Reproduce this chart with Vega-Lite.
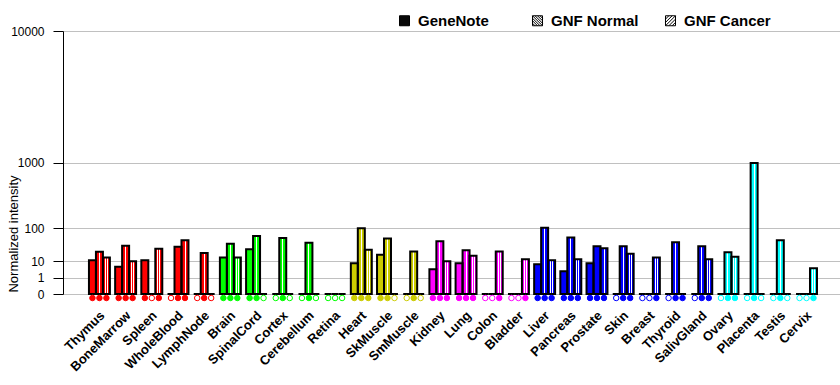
{
  "$schema": "https://vega.github.io/schema/vega-lite/v6.json",
  "width": 777,
  "height": 263,
  "autosize": "none",
  "padding": {"left": 63, "top": 31, "right": 0, "bottom": 91},
  "background": "white",
  "config": {"view": {"stroke": null}, "font": "Liberation Sans"},
  "data": {"values": [
    {"tissue": "Thymus", "group": "Blood", "series": "GeneNote", "value": 11, "present": 1},
    {"tissue": "Thymus", "group": "Blood", "series": "GNF Normal", "value": 23, "present": 1},
    {"tissue": "Thymus", "group": "Blood", "series": "GNF Cancer", "value": 14, "present": 1},
    {"tissue": "BoneMarrow", "group": "Blood", "series": "GeneNote", "value": 5.4, "present": 1},
    {"tissue": "BoneMarrow", "group": "Blood", "series": "GNF Normal", "value": 36, "present": 1},
    {"tissue": "BoneMarrow", "group": "Blood", "series": "GNF Cancer", "value": 10, "present": 1},
    {"tissue": "Spleen", "group": "Blood", "series": "GeneNote", "value": 11, "present": 1},
    {"tissue": "Spleen", "group": "Blood", "series": "GNF Normal", "value": 0, "present": 0},
    {"tissue": "Spleen", "group": "Blood", "series": "GNF Cancer", "value": 29, "present": 1},
    {"tissue": "WholeBlood", "group": "Blood", "series": "GeneNote", "value": 0, "present": 0},
    {"tissue": "WholeBlood", "group": "Blood", "series": "GNF Normal", "value": 33.5, "present": 1},
    {"tissue": "WholeBlood", "group": "Blood", "series": "GNF Cancer", "value": 51, "present": 1},
    {"tissue": "LymphNode", "group": "Blood", "series": "GeneNote", "value": 0, "present": 0},
    {"tissue": "LymphNode", "group": "Blood", "series": "GNF Normal", "value": 21, "present": 1},
    {"tissue": "LymphNode", "group": "Blood", "series": "GNF Cancer", "value": 0, "present": 0},
    {"tissue": "Brain", "group": "Neural", "series": "GeneNote", "value": 14, "present": 1},
    {"tissue": "Brain", "group": "Neural", "series": "GNF Normal", "value": 41, "present": 1},
    {"tissue": "Brain", "group": "Neural", "series": "GNF Cancer", "value": 14, "present": 1},
    {"tissue": "SpinalCord", "group": "Neural", "series": "GeneNote", "value": 28, "present": 1},
    {"tissue": "SpinalCord", "group": "Neural", "series": "GNF Normal", "value": 66, "present": 1},
    {"tissue": "SpinalCord", "group": "Neural", "series": "GNF Cancer", "value": 0, "present": 0},
    {"tissue": "Cortex", "group": "Neural", "series": "GeneNote", "value": 0, "present": 0},
    {"tissue": "Cortex", "group": "Neural", "series": "GNF Normal", "value": 59, "present": 1},
    {"tissue": "Cortex", "group": "Neural", "series": "GNF Cancer", "value": 0, "present": 0},
    {"tissue": "Cerebellum", "group": "Neural", "series": "GeneNote", "value": 0, "present": 0},
    {"tissue": "Cerebellum", "group": "Neural", "series": "GNF Normal", "value": 44, "present": 1},
    {"tissue": "Cerebellum", "group": "Neural", "series": "GNF Cancer", "value": 0, "present": 0},
    {"tissue": "Retina", "group": "Neural", "series": "GeneNote", "value": 0, "present": 0},
    {"tissue": "Retina", "group": "Neural", "series": "GNF Normal", "value": 0, "present": 0},
    {"tissue": "Retina", "group": "Neural", "series": "GNF Cancer", "value": 0, "present": 0},
    {"tissue": "Heart", "group": "Muscle", "series": "GeneNote", "value": 8, "present": 1},
    {"tissue": "Heart", "group": "Muscle", "series": "GNF Normal", "value": 100, "present": 1},
    {"tissue": "Heart", "group": "Muscle", "series": "GNF Cancer", "value": 27, "present": 1},
    {"tissue": "SkMuscle", "group": "Muscle", "series": "GeneNote", "value": 18, "present": 1},
    {"tissue": "SkMuscle", "group": "Muscle", "series": "GNF Normal", "value": 57, "present": 1},
    {"tissue": "SkMuscle", "group": "Muscle", "series": "GNF Cancer", "value": 0, "present": 0},
    {"tissue": "SmMuscle", "group": "Muscle", "series": "GeneNote", "value": 0, "present": 0},
    {"tissue": "SmMuscle", "group": "Muscle", "series": "GNF Normal", "value": 23.5, "present": 1},
    {"tissue": "SmMuscle", "group": "Muscle", "series": "GNF Cancer", "value": 0, "present": 0},
    {"tissue": "Kidney", "group": "Visceral", "series": "GeneNote", "value": 3.9, "present": 1},
    {"tissue": "Kidney", "group": "Visceral", "series": "GNF Normal", "value": 48, "present": 1},
    {"tissue": "Kidney", "group": "Visceral", "series": "GNF Cancer", "value": 10, "present": 1},
    {"tissue": "Lung", "group": "Visceral", "series": "GeneNote", "value": 8, "present": 1},
    {"tissue": "Lung", "group": "Visceral", "series": "GNF Normal", "value": 25.7, "present": 1},
    {"tissue": "Lung", "group": "Visceral", "series": "GNF Cancer", "value": 16.6, "present": 1},
    {"tissue": "Colon", "group": "Visceral", "series": "GeneNote", "value": 0, "present": 0},
    {"tissue": "Colon", "group": "Visceral", "series": "GNF Normal", "value": 0, "present": 0},
    {"tissue": "Colon", "group": "Visceral", "series": "GNF Cancer", "value": 23.5, "present": 1},
    {"tissue": "Bladder", "group": "Visceral", "series": "GeneNote", "value": 0, "present": 0},
    {"tissue": "Bladder", "group": "Visceral", "series": "GNF Normal", "value": 0, "present": 0},
    {"tissue": "Bladder", "group": "Visceral", "series": "GNF Cancer", "value": 12, "present": 1},
    {"tissue": "Liver", "group": "Glandular", "series": "GeneNote", "value": 7.1, "present": 1},
    {"tissue": "Liver", "group": "Glandular", "series": "GNF Normal", "value": 103, "present": 1},
    {"tissue": "Liver", "group": "Glandular", "series": "GNF Cancer", "value": 10.9, "present": 1},
    {"tissue": "Pancreas", "group": "Glandular", "series": "GeneNote", "value": 2.9, "present": 1},
    {"tissue": "Pancreas", "group": "Glandular", "series": "GNF Normal", "value": 60.5, "present": 1},
    {"tissue": "Pancreas", "group": "Glandular", "series": "GNF Cancer", "value": 12, "present": 1},
    {"tissue": "Prostate", "group": "Glandular", "series": "GeneNote", "value": 8, "present": 1},
    {"tissue": "Prostate", "group": "Glandular", "series": "GNF Normal", "value": 34.5, "present": 1},
    {"tissue": "Prostate", "group": "Glandular", "series": "GNF Cancer", "value": 29.8, "present": 1},
    {"tissue": "Skin", "group": "Glandular", "series": "GeneNote", "value": 0, "present": 0},
    {"tissue": "Skin", "group": "Glandular", "series": "GNF Normal", "value": 34.5, "present": 1},
    {"tissue": "Skin", "group": "Glandular", "series": "GNF Cancer", "value": 19.6, "present": 1},
    {"tissue": "Breast", "group": "Glandular", "series": "GeneNote", "value": 0, "present": 0},
    {"tissue": "Breast", "group": "Glandular", "series": "GNF Normal", "value": 0, "present": 0},
    {"tissue": "Breast", "group": "Glandular", "series": "GNF Cancer", "value": 14, "present": 1},
    {"tissue": "Thyroid", "group": "Glandular", "series": "GeneNote", "value": 0, "present": 0},
    {"tissue": "Thyroid", "group": "Glandular", "series": "GNF Normal", "value": 45, "present": 1},
    {"tissue": "Thyroid", "group": "Glandular", "series": "GNF Cancer", "value": 0, "present": 1},
    {"tissue": "SalivGland", "group": "Glandular", "series": "GeneNote", "value": 0, "present": 0},
    {"tissue": "SalivGland", "group": "Glandular", "series": "GNF Normal", "value": 34.5, "present": 1},
    {"tissue": "SalivGland", "group": "Glandular", "series": "GNF Cancer", "value": 12, "present": 1},
    {"tissue": "Ovary", "group": "Reproductive", "series": "GeneNote", "value": 0, "present": 0},
    {"tissue": "Ovary", "group": "Reproductive", "series": "GNF Normal", "value": 22, "present": 1},
    {"tissue": "Ovary", "group": "Reproductive", "series": "GNF Cancer", "value": 15.3, "present": 1},
    {"tissue": "Placenta", "group": "Reproductive", "series": "GeneNote", "value": 0, "present": 0},
    {"tissue": "Placenta", "group": "Reproductive", "series": "GNF Normal", "value": 990, "present": 1},
    {"tissue": "Placenta", "group": "Reproductive", "series": "GNF Cancer", "value": 0, "present": 0},
    {"tissue": "Testis", "group": "Reproductive", "series": "GeneNote", "value": 0, "present": 0},
    {"tissue": "Testis", "group": "Reproductive", "series": "GNF Normal", "value": 51, "present": 1},
    {"tissue": "Testis", "group": "Reproductive", "series": "GNF Cancer", "value": 0, "present": 0},
    {"tissue": "Cervix", "group": "Reproductive", "series": "GeneNote", "value": 0, "present": 0},
    {"tissue": "Cervix", "group": "Reproductive", "series": "GNF Normal", "value": 0, "present": 0},
    {"tissue": "Cervix", "group": "Reproductive", "series": "GNF Cancer", "value": 4.4, "present": 1}
  ]},
  "encoding": {
    "x": {
      "field": "tissue", "type": "nominal", "sort": null,
      "scale": {"paddingInner": 0.2, "paddingOuter": 0.935, "align": 0.53},
      "axis": {
        "title": null, "labelAngle": -45, "labelAlign": "right", "labelBaseline": "middle",
        "labelFont": "Liberation Sans", "labelFontWeight": "bold", "labelFontSize": 13,
        "labelColor": "black", "ticks": false, "tickSize": 0, "domain": false, "grid": false,
        "labelPadding": 19, "labelOffset": 3, "labelOverlap": false, "labelLimit": 300
      }
    },
    "xOffset": {
      "field": "series", "type": "nominal", "sort": ["GeneNote", "GNF Normal", "GNF Cancer"],
      "scale": {"paddingInner": 0, "paddingOuter": 0}
    },
    "y": {
      "field": "value", "type": "quantitative",
      "scale": {"type": "pow", "exponent": 0.30103, "domain": [0, 10000], "nice": false, "zero": true},
      "axis": {
        "title": "Normalized intensity", "values": [0, 1, 10, 100, 1000, 10000], "format": "d",
        "grid": true, "gridColor": "#c0c0c0", "gridWidth": 1, "gridOpacity": 1,
        "domainColor": "black", "domainWidth": 1, "tickColor": "black", "tickSize": 10, "tickWidth": 1,
        "labelPadding": 9, "labelFontSize": 12, "labelColor": "black", "labelFont": "Liberation Sans",
        "labelOverlap": false,
        "titleFont": "Liberation Sans", "titleFontSize": 13, "titleFontWeight": "normal", "titleColor": "black",
        "titleX": -45.5, "titleY": 202.5, "titleAngle": -90, "titleAlign": "center", "titleBaseline": "alphabetic"
      }
    }
  },
  "layer": [
    {
      "mark": {"type": "bar", "strokeWidth": 0},
      "encoding": {
        "fill": {
          "field": "group", "type": "nominal", "legend": null,
          "scale": {"domain": ["Blood", "Neural", "Muscle", "Visceral", "Glandular", "Reproductive"],
                    "range": ["#ff0000", "#00ff00", "#cccc00", "#ff00ff", "#0000ff", "#00ffff"]}
        }
      }
    },
    {
      "mark": {"type": "bar", "stroke": "black", "strokeWidth": 2},
      "encoding": {
        "fill": {
          "condition": [
            {"test": "datum.series === 'GNF Normal'", "value": {"gradient": "linear", "x1": 0, "y1": 0, "x2": 1, "y2": 0, "stops": [
              {"offset": 0, "color": "rgba(255,255,255,0)"}, {"offset": 0.43, "color": "rgba(255,255,255,0)"},
              {"offset": 0.43, "color": "white"}, {"offset": 0.57, "color": "white"},
              {"offset": 0.57, "color": "rgba(255,255,255,0)"}, {"offset": 1, "color": "rgba(255,255,255,0)"}
            ]}},
            {"test": "datum.series === 'GNF Cancer'", "value": {"gradient": "linear", "x1": 0, "y1": 0, "x2": 1, "y2": 0, "stops": [
              {"offset": 0, "color": "rgba(255,255,255,0)"}, {"offset": 0.29, "color": "rgba(255,255,255,0)"},
              {"offset": 0.29, "color": "white"}, {"offset": 0.43, "color": "white"},
              {"offset": 0.43, "color": "rgba(255,255,255,0)"}, {"offset": 0.57, "color": "rgba(255,255,255,0)"},
              {"offset": 0.57, "color": "white"}, {"offset": 0.71, "color": "white"},
              {"offset": 0.71, "color": "rgba(255,255,255,0)"}, {"offset": 1, "color": "rgba(255,255,255,0)"}
            ]}}
          ],
          "value": "transparent"
        }
      }
    },
    {
      "mark": {"type": "point", "filled": true, "shape": "circle", "size": 30, "strokeWidth": 1, "opacity": 1},
      "encoding": {
        "y": {"datum": 0, "type": "quantitative"},
        "yOffset": {"value": 4},
        "fill": {
          "field": "group", "type": "nominal", "legend": null,
          "scale": {"domain": ["Blood", "Neural", "Muscle", "Visceral", "Glandular", "Reproductive"],
                    "range": ["#ff0000", "#00ff00", "#cccc00", "#ff00ff", "#0000ff", "#00ffff"]}
        },
        "stroke": {
          "field": "group", "type": "nominal", "legend": null,
          "scale": {"domain": ["Blood", "Neural", "Muscle", "Visceral", "Glandular", "Reproductive"],
                    "range": ["#ff0000", "#00ff00", "#cccc00", "#ff00ff", "#0000ff", "#00ffff"]}
        },
        "fillOpacity": {"condition": {"test": "datum.present === 1", "value": 1}, "value": 0}
      }
    },
    {
      "transform": [{"filter": "datum.value < 0"}],
      "mark": {"type": "point", "filled": false, "color": "black", "strokeWidth": 1, "opacity": 1},
      "encoding": {
        "shape": {
          "field": "series", "type": "nominal",
          "scale": {
            "domain": ["GeneNote", "GNF Normal", "GNF Cancer"],
            "range": [
              "M-1,-1V1M1,-1V1M-1,-1H1M-1,-0.9H1M-1,-0.8H1M-1,-0.7H1M-1,-0.6H1M-1,-0.5H1M-1,-0.4H1M-1,-0.3H1M-1,-0.2H1M-1,-0.1H1M-1,0H1M-1,0.1H1M-1,0.2H1M-1,0.3H1M-1,0.4H1M-1,0.5H1M-1,0.6H1M-1,0.7H1M-1,0.8H1M-1,0.9H1M-1,1H1",
              "M-1,-1H1M1,-1V1M1,1H-1M-1,1V-1M-1,-1L1,1M-0.5,-1L1,0.5M0,-1L1,0M0.5,-1L1,-0.5M-1,-0.5L0.5,1M-1,0L0,1M-1,0.5L-0.5,1",
              "M-1,-1H1M1,-1V1M1,1H-1M-1,1V-1M-1,1L1,-1M-0.33,1L1,-0.33M0.33,1L1,0.33M-1,0.33L0.33,-1M-1,-0.33L-0.33,-1"
            ]
          },
          "legend": {
            "orient": "none", "legendX": 334, "legendY": -18, "direction": "horizontal", "title": null,
            "symbolSize": 100, "symbolStrokeWidth": 1,
            "symbolStrokeColor": "black", "symbolOpacity": 1,
            "labelFont": "Liberation Sans", "labelFontSize": 15, "labelFontWeight": "bold", "labelColor": "black",
            "labelOffset": 6, "columnPadding": 24, "gridAlign": "all", "padding": 0
          }
        }
      }
    }
  ]
}
